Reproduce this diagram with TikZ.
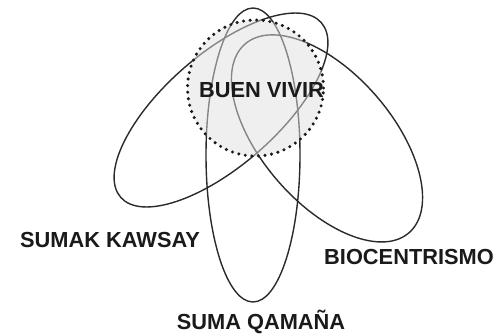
\documentclass[tikz,border=0pt]{standalone}
\usepackage{fontspec}
\setmainfont{Liberation Sans}
\definecolor{linec}{HTML}{2A2A2A}
\definecolor{textc}{HTML}{1A1A1A}
\definecolor{fillc}{HTML}{E0E0E0}
\tikzset{
  ell/.style={draw=linec, line width=1.4pt},
  bvcircle/.style={draw=black!90, line width=3.4pt, line cap=round,
    dash pattern=on 0pt off 6.6pt, fill=fillc, fill opacity=0.5, draw opacity=1},
  lbl/.style={text=textc, anchor=base, inner sep=0pt,
    font=\fontsize{21.8}{24}\selectfont\bfseries}
}
\begin{document}
\begin{tikzpicture}[x=1pt,y=-1pt]
\useasboundingbox (0,0) rectangle (495,335);
% Suma Qamana (vertical)
\coordinate (cq) at (253,155);
\draw[ell] (cq) ellipse [x radius=47pt, y radius=147pt];
% Sumak Kawsay (tilted up-right)
\coordinate (ck) at (221,110);
\draw[ell, rotate around={41:(ck)}] (ck) ellipse [x radius=133pt, y radius=56pt];
% Biocentrismo (tilted down-right)
\coordinate (cb) at (327,138.4);
\draw[ell, rotate around={-49:(cb)}] (cb) ellipse [x radius=125pt, y radius=65pt];
% Buen vivir circle
\coordinate (cv) at (255.5,88);
\draw[bvcircle] (cv) circle [radius=68pt];
% labels
\node[lbl] (bv) at (261.5,97.8) {BUEN VIVIR};
\node[lbl] (sk) at (110,247.8) {SUMAK KAWSAY};
\node[lbl] (bc) at (409,264.8) {BIOCENTRISMO};
\node[lbl] (sq) at (261,329.8) {SUMA QAMAÑA};
\end{tikzpicture}
\end{document}
